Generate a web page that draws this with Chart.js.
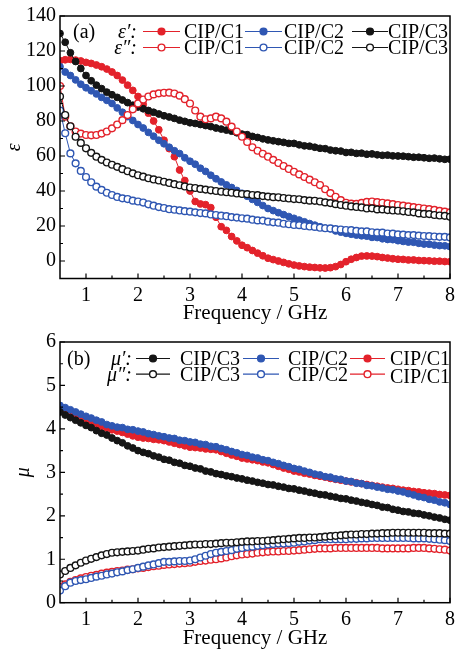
<!DOCTYPE html>
<html>
<head>
<meta charset="utf-8">
<script src="https://cdn.jsdelivr.net/npm/chart.js@4.4.1/dist/chart.umd.min.js"></script>
<style>
  html, body { margin: 0; padding: 0; background: #fff; }
  canvas { display: block; }
</style>
</head>
<body>
<canvas id="epsChart" width="460" height="326"></canvas>
<canvas id="muChart" width="460" height="325"></canvas>
<script>
// ── data: frequency grid (GHz) ──
const FREQ = [
  0.5, 0.6, 0.7, 0.8, 0.9, 1.0, 1.1, 1.2, 1.3, 1.4,
  1.5, 1.6, 1.7, 1.8, 1.9, 2.0, 2.1, 2.2, 2.3, 2.4,
  2.5, 2.6, 2.7, 2.8, 2.9, 3.0, 3.1, 3.2, 3.3, 3.4,
  3.5, 3.6, 3.7, 3.8, 3.9, 4.0, 4.1, 4.2, 4.3, 4.4,
  4.5, 4.6, 4.7, 4.8, 4.9, 5.0, 5.1, 5.2, 5.3, 5.4,
  5.5, 5.6, 5.7, 5.8, 5.9, 6.0, 6.1, 6.2, 6.3, 6.4,
  6.5, 6.6, 6.7, 6.8, 6.9, 7.0, 7.1, 7.2, 7.3, 7.4,
  7.5, 7.6, 7.7, 7.8, 7.9, 8.0
];

// tick labels
const X_TICKS = [1, 2, 3, 4, 5, 6, 7, 8];
const EPS_TICKS = [0, 20, 40, 60, 80, 100, 120, 140];
const MU_TICKS = [0, 1, 2, 3, 4, 5, 6];

// (a) permittivity, real part
const EPS_RE_C1 = [
  114.5, 115, 115.2, 114.8, 114.3, 113.5, 112.9, 112, 111, 109.7,
  108, 106, 103.4, 100.5, 97.5, 94, 89.5, 84.5, 80, 75,
  69, 64.2, 59.6, 52, 46, 40, 34, 32.6, 32.2, 30.5,
  25, 19.6, 17.5, 14, 11.5, 9, 7.6, 6, 4.5, 3,
  1.6, 0.8, 0, -0.8, -1.6, -2.3, -2.8, -3.2, -3.5, -3.7,
  -3.9, -4, -3.8, -3.2, -2, -0.4, 1, 2, 2.8, 2.9,
  2.8, 2.5, 2, 1.7, 1.3, 1, 0.9, 0.6, 0.6, 0.3,
  0.2, 0.1, -0.1, -0.1, -0.3, -0.4
];
const EPS_RE_C2 = [
  111, 108, 106, 103.5, 101, 99, 97.3, 95.5, 93.5, 91.8,
  90, 87.5, 85, 82.5, 80.3, 78, 76, 73.5, 71.3, 69,
  67, 65, 63, 61.4, 59, 57, 55.3, 53, 51.2, 49,
  47, 45.2, 43.5, 42, 40.3, 38.7, 37, 35.2, 33.5, 31.7,
  30, 28.8, 27.6, 26.5, 25.4, 24.4, 23.4, 22.4, 21.4, 20.5,
  19.6, 18.8, 18.4, 17.2, 16.5, 15.8, 15.3, 14.8, 14.4, 14.2,
  13.5, 13.4, 12.7, 12.3, 12.2, 11.6, 11.2, 10.8, 10.7, 10.1,
  9.7, 9.6, 9.1, 8.8, 8.7, 8.2
];
const EPS_RE_C3 = [
  130, 125, 119, 114, 110, 106, 103, 100.5, 98.5, 96.5,
  95, 93.5, 92, 90.5, 89, 88, 87, 86, 85, 84,
  83, 82.3, 81.5, 80.5, 79.8, 79, 78.6, 78, 77.4, 76.8,
  76, 75.4, 74.8, 74.2, 73.3, 72.5, 72.2, 71.2, 70.6, 69.8,
  69.2, 68.7, 68.2, 67.8, 67.2, 67.2, 66.4, 65.8, 65.6, 65,
  64.4, 64.2, 63.4, 63, 62.8, 62, 62.1, 61.5, 61.6, 61,
  61.2, 60.7, 60.4, 60.5, 60.1, 60, 59.9, 59.6, 59.3, 59.3,
  59, 58.7, 58.8, 58.4, 58.1, 58.2
];
// (a) permittivity, imaginary part
const EPS_IM_C1 = [
  100, 82.5, 77, 74, 72.8, 72, 71.8, 72, 72.8, 74,
  75.8, 78, 80.5, 83.4, 86.7, 90, 92.3, 94, 95.2, 95.8,
  96.1, 96.2, 95.7, 94.5, 92.5, 90, 86, 82.5, 81, 81.5,
  82.5, 81.5, 79.6, 76.8, 74, 71, 68, 65, 63, 61.3,
  59.6, 57.8, 56, 54.3, 52.6, 51, 49.5, 48, 46.5, 45,
  43.4, 41, 38.8, 36.7, 34.8, 33.3, 32.8, 32.6, 33.2, 33.8,
  34, 33.6, 33.3, 32.9, 32.5, 32, 31.6, 31.2, 30.8, 30.4,
  30, 29.6, 29.2, 28.6, 28.2, 27.8
];
const EPS_IM_C2 = [
  86, 73, 61.5, 55.8, 51.5, 48, 45, 42.5, 40.6, 39,
  37.7, 36.6, 35.8, 35.4, 34.5, 34, 33.4, 32.4, 31.6, 30.8,
  30.3, 29.6, 29.3, 28.9, 28.5, 28.2, 27.8, 27.4, 27.2, 26.6,
  26.3, 25.9, 25.6, 25.1, 24.8, 24.4, 24.2, 23.6, 23.2, 23.1,
  22.5, 22.1, 21.9, 21.3, 21, 20.6, 20.5, 20, 19.7, 19.5,
  19, 18.7, 18.6, 18.2, 18, 17.7, 17.6, 17.2, 16.9, 16.9,
  16.4, 16.2, 16.2, 15.7, 15.6, 15.2, 15.1, 14.8, 14.8, 14.5,
  14.3, 14.2, 14, 13.8, 13.8, 13.5
];
const EPS_IM_C3 = [
  94, 83.4, 77, 71, 67.5, 64.4, 61.8, 59.6, 57.8, 56.3,
  55, 53.8, 52.5, 51.3, 50.1, 49, 48.2, 47.3, 46.6, 46,
  45.3, 44.6, 43.9, 43.3, 42.6, 42, 41.7, 41.2, 40.8, 40.4,
  40, 39.6, 39.3, 39, 38.6, 38.3, 38.2, 37.7, 37.6, 37.1,
  36.8, 36.5, 36.4, 36, 35.7, 35.4, 35.3, 34.8, 34.5, 34.4,
  34, 33.5, 33.1, 32.5, 32, 31.6, 31.2, 30.9, 30.6, 30,
  30.1, 29.5, 29.5, 29.1, 28.9, 28.7, 28.4, 28, 27.8, 27.2,
  26.9, 26.8, 26.3, 26, 25.8, 25.3
];

// (b) permeability, real part
const MU_RE_C3 = [
  4.39, 4.32, 4.26, 4.2, 4.14, 4.08, 4.03, 3.96, 3.9, 3.86,
  3.79, 3.73, 3.68, 3.61, 3.56, 3.5, 3.46, 3.43, 3.38, 3.35,
  3.3, 3.28, 3.23, 3.21, 3.16, 3.14, 3.1, 3.08, 3.03, 3.01,
  2.97, 2.95, 2.92, 2.9, 2.87, 2.85, 2.82, 2.8, 2.77, 2.75,
  2.72, 2.71, 2.68, 2.66, 2.63, 2.62, 2.59, 2.57, 2.54, 2.52,
  2.49, 2.48, 2.45, 2.43, 2.4, 2.39, 2.36, 2.34, 2.31, 2.29,
  2.26, 2.24, 2.2, 2.19, 2.15, 2.13, 2.1, 2.09, 2.06, 2.05,
  2.02, 2.0, 1.97, 1.95, 1.92, 1.9
];
const MU_RE_C2 = [
  4.54, 4.49, 4.44, 4.39, 4.34, 4.29, 4.25, 4.2, 4.16, 4.1,
  4.07, 4.04, 4.03, 3.99, 3.98, 3.95, 3.93, 3.89, 3.87, 3.84,
  3.82, 3.79, 3.78, 3.74, 3.73, 3.7, 3.69, 3.65, 3.64, 3.6,
  3.59, 3.55, 3.52, 3.48, 3.45, 3.41, 3.39, 3.35, 3.33, 3.29,
  3.27, 3.23, 3.2, 3.16, 3.13, 3.09, 3.07, 3.03, 3.0, 2.96,
  2.94, 2.9, 2.89, 2.85, 2.84, 2.8, 2.79, 2.75, 2.74, 2.7,
  2.69, 2.66, 2.64, 2.61, 2.6, 2.57, 2.55, 2.51, 2.48, 2.44,
  2.42, 2.38, 2.36, 2.32, 2.3, 2.26
];
const MU_RE_C1 = [
  4.44, 4.39, 4.34, 4.29, 4.24, 4.19, 4.15, 4.11, 4.06, 4.02,
  3.98, 3.95, 3.92, 3.88, 3.84, 3.81, 3.79, 3.78, 3.76, 3.75,
  3.73, 3.7, 3.67, 3.64, 3.61, 3.58, 3.57, 3.56, 3.54, 3.53,
  3.52, 3.48, 3.44, 3.4, 3.37, 3.33, 3.31, 3.29, 3.27, 3.24,
  3.22, 3.18, 3.14, 3.1, 3.07, 3.03, 3.01, 2.98, 2.96, 2.93,
  2.91, 2.89, 2.86, 2.84, 2.82, 2.8, 2.78, 2.76, 2.74, 2.72,
  2.7, 2.68, 2.66, 2.64, 2.63, 2.61, 2.59, 2.58, 2.56, 2.55,
  2.53, 2.52, 2.51, 2.49, 2.48, 2.47
];
// (b) permeability, imaginary part
const MU_IM_C3 = [
  0.65, 0.73, 0.8, 0.86, 0.92, 0.97, 1.01, 1.05, 1.09, 1.12,
  1.15, 1.16, 1.17, 1.18, 1.19, 1.2, 1.22, 1.24, 1.25, 1.27,
  1.28, 1.29, 1.3, 1.31, 1.32, 1.33, 1.34, 1.34, 1.35, 1.35,
  1.36, 1.37, 1.38, 1.38, 1.39, 1.4, 1.41, 1.41, 1.42, 1.42,
  1.43, 1.44, 1.45, 1.46, 1.47, 1.48, 1.49, 1.49, 1.5, 1.5,
  1.51, 1.52, 1.53, 1.54, 1.55, 1.56, 1.57, 1.57, 1.58, 1.58,
  1.59, 1.59, 1.6, 1.6, 1.61, 1.61, 1.61, 1.61, 1.61, 1.61,
  1.61, 1.6, 1.6, 1.6, 1.59, 1.59
];
const MU_IM_C2 = [
  0.28, 0.38, 0.46, 0.5, 0.52, 0.54, 0.57, 0.6, 0.62, 0.65,
  0.67, 0.7, 0.72, 0.75, 0.77, 0.8, 0.83, 0.86, 0.88, 0.91,
  0.94, 0.94, 0.95, 0.96, 0.96, 0.97, 1.0, 1.04, 1.08, 1.12,
  1.15, 1.17, 1.19, 1.21, 1.24, 1.26, 1.28, 1.29, 1.31, 1.32,
  1.34, 1.35, 1.36, 1.36, 1.37, 1.38, 1.4, 1.41, 1.43, 1.44,
  1.46, 1.46, 1.46, 1.46, 1.46, 1.46, 1.47, 1.47, 1.48, 1.48,
  1.49, 1.49, 1.49, 1.49, 1.49, 1.49, 1.49, 1.49, 1.48, 1.48,
  1.48, 1.47, 1.46, 1.45, 1.44, 1.42
];
const MU_IM_C1 = [
  0.36, 0.42, 0.48, 0.52, 0.56, 0.59, 0.62, 0.64, 0.67, 0.69,
  0.71, 0.73, 0.74, 0.76, 0.77, 0.79, 0.8, 0.82, 0.84, 0.85,
  0.87, 0.88, 0.89, 0.9, 0.91, 0.92, 0.94, 0.96, 0.97, 0.99,
  1.0, 1.02, 1.04, 1.07, 1.09, 1.11, 1.12, 1.13, 1.15, 1.16,
  1.17, 1.18, 1.18, 1.19, 1.19, 1.2, 1.21, 1.22, 1.23, 1.24,
  1.25, 1.25, 1.25, 1.26, 1.26, 1.26, 1.26, 1.26, 1.26, 1.26,
  1.26, 1.26, 1.25, 1.25, 1.25, 1.25, 1.25, 1.25, 1.26, 1.26,
  1.26, 1.25, 1.24, 1.23, 1.22, 1.2
];

const RED = '#e3222b';
const BLUE = '#2f57b3';
const BLACK = '#151515';
const SERIF = "'Liberation Serif', 'Times New Roman', serif";

function series(values, color, filled) {
  return {
    data: values.map((v, i) => ({ x: FREQ[i], y: v })),
    borderColor: color,
    borderWidth: 1,
    pointRadius: 3.4,
    pointBorderWidth: filled ? 1 : 1.4,
    pointBorderColor: color,
    pointBackgroundColor: filled ? color : '#fff',
    tension: 0
  };
}

// frame box + inward major/minor ticks on bottom and left
const frameTicks = {
  id: 'frameTicks',
  afterDraw(chart) {
    const { ctx, chartArea: a, scales } = chart;
    ctx.save();
    ctx.strokeStyle = '#000';
    ctx.lineWidth = 1.5;
    ctx.strokeRect(a.left, a.top, a.right - a.left, a.bottom - a.top);
    ctx.lineWidth = 1.2;
    ctx.beginPath();
    ['x', 'y'].forEach(id => {
      const s = scales[id];
      const vals = s.ticks.map(t => t.value);
      const mark = (v, len) => {
        const p = s.getPixelForValue(v);
        if (id === 'x') { ctx.moveTo(p, a.bottom); ctx.lineTo(p, a.bottom - len); }
        else { ctx.moveTo(a.left, p); ctx.lineTo(a.left + len, p); }
      };
      vals.forEach(v => mark(v, 5));
      for (let i = 0; i < vals.length - 1; i++) mark((vals[i] + vals[i + 1]) / 2, 3);
    });
    ctx.stroke();
    ctx.restore();
  }
};

// two-row legend drawn inside the plot
const inlineLegend = {
  id: 'inlineLegend',
  afterDraw(chart, args, o) {
    const { ctx } = chart;
    ctx.save();
    ctx.textBaseline = 'alphabetic';
    ctx.fillStyle = '#000';
    ctx.font = '20px ' + SERIF;
    ctx.textAlign = 'left';
    ctx.fillText(o.tag, o.tagX, o.rows[0]);
    ctx.font = 'italic 20px ' + SERIF;
    ctx.textAlign = 'right';
    o.syms.forEach((s, r) => ctx.fillText(s, o.symX, o.rows[r]));
    ctx.textAlign = 'left';
    ctx.font = '20px ' + SERIF;
    o.rows.forEach((base, r) => {
      const my = base - 6.5;
      o.entries.forEach((e, k) => {
        const [x1, x2] = o.segs[k];
        ctx.strokeStyle = e[1];
        ctx.lineWidth = 1.2;
        ctx.beginPath(); ctx.moveTo(x1, my); ctx.lineTo(x2, my); ctx.stroke();
        ctx.beginPath();
        ctx.arc((x1 + x2) / 2, my, 3.4, 0, Math.PI * 2);
        ctx.fillStyle = r === 0 ? e[1] : '#fff';
        ctx.fill();
        ctx.lineWidth = 1.4;
        ctx.stroke();
        ctx.fillStyle = '#000';
        ctx.fillText(e[0], o.textX[k], base + (o.shift ? o.shift[r][k] : 0));
      });
    });
    ctx.restore();
  }
};

function options(yMin, yMax, yTicks, yTitle, yTitlePad, plotTop, xHeight, legend) {
  return {
    responsive: false,
    animation: false,
    layout: { padding: { top: plotTop, right: 5, left: 0, bottom: 0 } },
    plugins: { legend: { display: false }, tooltip: { enabled: false }, inlineLegend: legend },
    scales: {
      x: {
        type: 'linear', min: 0.5, max: 8,
        ticks: { color: '#000', padding: 5, font: { family: SERIF, size: 20 } },
        afterBuildTicks: s => { s.ticks = X_TICKS.map(v => ({ value: v })); },
        afterFit: s => { s.height = xHeight; },
        grid: { display: false, drawTicks: false },
        border: { display: false },
        title: { display: true, text: 'Frequency / GHz', color: '#000', padding: 0, font: { family: SERIF, size: 21 } }
      },
      y: {
        min: yMin, max: yMax,
        ticks: { color: '#000', padding: 4, font: { family: SERIF, size: 20 } },
        afterBuildTicks: s => { s.ticks = yTicks.map(v => ({ value: v })); },
        afterFit: s => { s.width = 60; },
        grid: { display: false, drawTicks: false },
        border: { display: false },
        title: { display: true, text: yTitle, color: '#000', padding: { top: yTitlePad, bottom: 0 }, font: { family: SERIF, size: 20, style: 'italic' } }
      }
    }
  };
}

new Chart(document.getElementById('epsChart'), {
  type: 'line',
  data: {
    datasets: [
      series(EPS_IM_C3, BLACK, false),
      series(EPS_IM_C2, BLUE, false),
      series(EPS_IM_C1, RED, false),
      series(EPS_RE_C3, BLACK, true),
      series(EPS_RE_C2, BLUE, true),
      series(EPS_RE_C1, RED, true)
    ]
  },
  options: options(-10, 140, EPS_TICKS, 'ε', 3, 15.5, 47.5, {
    tag: '(a)', tagX: 73, symX: 137, rows: [38, 54],
    syms: ['ε′:', 'ε″:'],
    entries: [['CIP/C1', RED], ['CIP/C2', BLUE], ['CIP/C3', BLACK]],
    segs: [[143, 180], [245, 282], [352, 388]],
    textX: [184, 284, 388]
  }),
  plugins: [frameTicks, inlineLegend]
});

new Chart(document.getElementById('muChart'), {
  type: 'line',
  data: {
    datasets: [
      series(MU_IM_C3, BLACK, false),
      series(MU_IM_C2, BLUE, false),
      series(MU_IM_C1, RED, false),
      series(MU_RE_C3, BLACK, true),
      series(MU_RE_C2, BLUE, true),
      series(MU_RE_C1, RED, true)
    ]
  },
  options: options(0, 6, MU_TICKS, 'μ', 12, 14.7, 48.3, {
    tag: '(b)', tagX: 67, symX: 132, rows: [39, 54.7],
    syms: ['μ′:', 'μ″:'],
    entries: [['CIP/C3', BLACK], ['CIP/C2', BLUE], ['CIP/C1', RED]],
    segs: [[136, 170], [243, 279], [350, 385]],
    textX: [180, 288, 390],
    shift: [[0, 0, 0], [0, 0, 2]]
  }),
  plugins: [frameTicks, inlineLegend]
});
</script>
</body>
</html>
